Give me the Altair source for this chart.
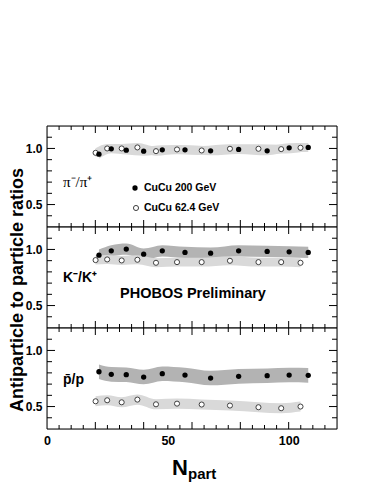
import altair as alt
import pandas as pd

# ---------------- data ----------------
N_200 = [21.5, 26.6, 32.8, 40.0, 47.7, 57.1, 67.7, 79.3, 91.1, 100.2, 108.1]
N_62 = [20.1, 24.9, 30.9, 37.4, 45.1, 53.8, 64.0, 75.7, 87.5, 96.9, 104.9]

pi_200 = [0.949, 0.997, 0.985, 0.976, 0.988, 0.988, 0.979, 0.991, 0.979, 1.006, 1.009]
pi_62 = [0.961, 1.000, 1.000, 1.009, 0.976, 0.991, 0.982, 0.997, 0.997, 0.994, 1.006]
k_200 = [0.949, 0.988, 1.003, 0.958, 0.988, 0.973, 0.967, 0.988, 0.982, 0.979, 0.973]
k_62 = [0.905, 0.911, 0.902, 0.908, 0.881, 0.887, 0.887, 0.899, 0.887, 0.887, 0.881]
p_200 = [0.810, 0.787, 0.784, 0.763, 0.793, 0.781, 0.754, 0.769, 0.775, 0.781, 0.778]
p_62 = [0.547, 0.556, 0.538, 0.562, 0.520, 0.526, 0.518, 0.509, 0.494, 0.485, 0.500]

# systematic band half-widths (per panel, per energy)
sys_pi = [0.04, 0.04]
sys_k = [0.05, 0.04]
sys_p = [0.065, 0.045]

x_labels = [0, 50, 100]
y_labels = [0.5, 1.0]
x_major = [20, 40, 60, 80, 100]
x_minor = [5, 10, 15, 25, 30, 35, 45, 50, 55, 65, 70, 75, 85, 90, 95, 105, 110, 115]
y_major = [0.5, 1.0]
y_minor = [0.4, 0.6, 0.7, 0.8, 0.9, 1.1]

W, H = 290, 101
XDOM = [0, 120]
YDOM = [0.3, 1.2]
FONT = "Liberation Sans"
DARK = "#b3b3b3"
LIGHT = "#d9d9d9"


def xenc(field, show):
    if show:
        ax = alt.Axis(values=x_labels, ticks=False, domain=False, grid=False, title=None,
                      labelFont=FONT, labelFontWeight="bold", labelFontSize=12.5,
                      labelPadding=5, labelColor="black", labelFlush=False)
    else:
        ax = None
    return alt.X(f"{field}:Q", scale=alt.Scale(domain=XDOM, nice=False, zero=False), axis=ax)


def yenc(field):
    ax = alt.Axis(values=y_labels, format=".1f", ticks=False, domain=False, grid=False,
                  title=None, labelFont=FONT, labelFontWeight="bold", labelFontSize=12,
                  labelPadding=5, labelColor="black")
    return alt.Y(f"{field}:Q", scale=alt.Scale(domain=YDOM, nice=False, zero=False), axis=ax)


def tick_layers(show_x):
    layers = []
    for vals, ln in ((y_major, 8), (y_minor, 5)):
        d = pd.DataFrame({"v": vals})
        layers.append(alt.Chart(d).mark_rule(color="black", strokeWidth=1).encode(
            y=yenc("v"), x=alt.value(0), x2=alt.value(ln)))
        layers.append(alt.Chart(d).mark_rule(color="black", strokeWidth=1).encode(
            y=yenc("v"), x=alt.value(W), x2=alt.value(W - ln)))
    for vals, ln in ((x_major, 7), (x_minor, 4)):
        d = pd.DataFrame({"v": vals})
        layers.append(alt.Chart(d).mark_rule(color="black", strokeWidth=1).encode(
            x=xenc("v", show_x), y=alt.value(0), y2=alt.value(ln)))
        layers.append(alt.Chart(d).mark_rule(color="black", strokeWidth=1).encode(
            x=xenc("v", show_x), y=alt.value(H), y2=alt.value(H - ln)))
    return layers


def frame():
    return alt.Chart(pd.DataFrame({"a": [0]})).mark_rect(
        filled=False, stroke="black", strokeWidth=1).encode(
        x=alt.value(0), x2=alt.value(W), y=alt.value(0), y2=alt.value(H))


def panel(v200, v62, sys, band_colors, show_x, extras):
    d200 = pd.DataFrame({"N": N_200, "r": v200})
    d200["lo"] = d200["r"] - sys[0]
    d200["hi"] = d200["r"] + sys[0]
    d62 = pd.DataFrame({"N": N_62, "r": v62})
    d62["lo"] = d62["r"] - sys[1]
    d62["hi"] = d62["r"] + sys[1]

    band200 = alt.Chart(d200).mark_area(color=band_colors[0], opacity=1, interpolate="monotone").encode(
        x=xenc("N", show_x), y=yenc("lo"), y2="hi:Q")
    band62 = alt.Chart(d62).mark_area(color=band_colors[1], opacity=1, interpolate="monotone").encode(
        x=xenc("N", show_x), y=yenc("lo"), y2="hi:Q")
    pts62 = alt.Chart(d62).mark_point(shape="circle", filled=False, fill="white", fillOpacity=1,
                                      stroke="#404040", strokeWidth=1, size=26, opacity=1).encode(
        x=xenc("N", show_x), y=yenc("r"))
    pts200 = alt.Chart(d200).mark_point(shape="circle", filled=True, color="black", size=28,
                                        opacity=1).encode(
        x=xenc("N", show_x), y=yenc("r"))
    layers = [band200, band62] + tick_layers(show_x) + [frame(), pts62, pts200] + extras
    return alt.layer(*layers).properties(width=W, height=H)


def label(text, x, y, size=14, weight="bold", font=FONT, align="left", baseline="middle", angle=0):
    kw = dict(text=text, align=align, baseline=baseline, fontSize=size, fontWeight=weight,
              font=font, color="black")
    if angle:
        kw["angle"] = angle
    return alt.Chart(pd.DataFrame({"a": [0]})).mark_text(**kw).encode(
        x=alt.value(x), y=alt.value(y))


def legend_dot(x, y, filled):
    if filled:
        m = alt.Chart(pd.DataFrame({"a": [0]})).mark_point(shape="circle", filled=True, color="black",
                                                            size=28, opacity=1)
    else:
        m = alt.Chart(pd.DataFrame({"a": [0]})).mark_point(shape="circle", filled=False, fill="white",
                                                            fillOpacity=1, stroke="#404040",
                                                            strokeWidth=1, size=26, opacity=1)
    return m.encode(x=alt.value(x), y=alt.value(y))


extras1 = [
    label("π⁻/π⁺", 16, 56, size=15, weight="normal", font="Liberation Serif"),
    legend_dot(88, 62, True),
    label("CuCu 200 GeV", 97, 62, size=10.5),
    legend_dot(89, 82, False),
    label("CuCu 62.4 GeV", 97, 82, size=10.5),
]
extras2 = [
    label("K⁻/K⁺", 16, 51, size=14),
    label("PHOBOS Preliminary", 146, 67, size=14.5, align="center"),
    label("Antiparticle to particle ratios", -29, 63, size=18, align="center", angle=270),
]
extras3 = [
    label("p̄/p", 16, 52, size=14),
    label("N", 133, 147, size=22, align="center", baseline="alphabetic"),
    label("part", 141, 151, size=15, baseline="alphabetic"),
]

p1 = panel(pi_200, pi_62, sys_pi, [LIGHT, LIGHT], False, extras1)
p2 = panel(k_200, k_62, sys_k, [DARK, LIGHT], False, extras2)
p3 = panel(p_200, p_62, sys_p, [DARK, LIGHT], True, extras3)

chart = alt.vconcat(p1, p2, p3, spacing=0, bounds="flush").properties(
    padding={"left": 0, "top": 117, "right": 5, "bottom": 0},
).configure_view(stroke="black", strokeWidth=1).configure(background="white")

chart.save("out.html", embed_options={"renderer": "svg", "actions": False})
